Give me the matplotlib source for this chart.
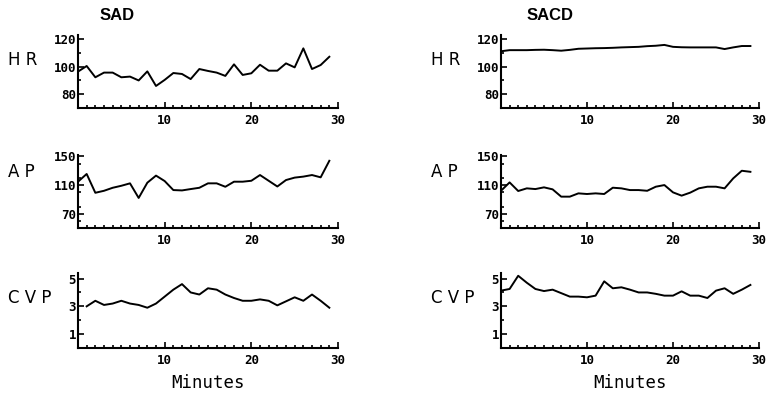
import numpy as np
import matplotlib
matplotlib.use("Agg")
import matplotlib.pyplot as plt
from matplotlib.ticker import MultipleLocator

minutes = list(range(30))
minutes_cvp_sad = list(range(1, 30))

hr_sad = [96.4, 100.5, 92.3, 95.7, 95.7, 92.3, 92.8, 90.0, 96.6, 86.0,
          90.4, 95.4, 94.7, 91.0, 98.3, 96.9, 95.7, 93.3, 101.7, 94.0,
          95.2, 101.4, 97.1, 97.1, 102.4, 99.5, 113.3, 98.3, 101.2, 107.2]
hr_sacd = [111.2, 112.0, 112.0, 112.0, 112.2, 112.3, 112.0, 111.6, 112.2, 113.0,
           113.2, 113.4, 113.5, 113.7, 114.0, 114.2, 114.4, 114.9, 115.2, 115.8,
           114.4, 114.1, 114.0, 114.0, 114.0, 114.0, 112.8, 114.0, 115.0, 115.0]

ap_sad = [114.7, 125.5, 99.2, 102.0, 106.2, 109.0, 112.4, 92.0, 113.3, 123.2,
          115.6, 103.0, 102.5, 104.4, 106.2, 112.4, 112.4, 107.6, 114.7, 114.7,
          116.0, 124.0, 116.0, 108.0, 117.0, 120.4, 121.8, 124.0, 120.8, 143.9]
ap_sacd = [102.0, 113.7, 101.7, 105.4, 104.4, 106.8, 104.0, 93.8, 93.8, 98.4,
           97.5, 98.4, 97.5, 106.3, 105.4, 103.0, 103.0, 102.0, 107.7, 110.0,
           99.8, 95.2, 99.4, 105.4, 107.7, 107.7, 105.4, 119.3, 130.0, 128.5]

cvp_sad = [3.0, 3.4, 3.1, 3.2, 3.4, 3.2, 3.1, 2.9, 3.2, 3.7,
           4.2, 4.6, 4.0, 3.85, 4.3, 4.2, 3.85, 3.6, 3.4, 3.4,
           3.5, 3.4, 3.07, 3.36, 3.65, 3.4, 3.85, 3.4, 2.9]
cvp_sacd = [4.13, 4.25, 5.2, 4.7, 4.25, 4.1, 4.2, 3.95, 3.7, 3.7,
            3.65, 3.77, 4.8, 4.3, 4.37, 4.2, 4.0, 4.0, 3.9, 3.77,
            3.77, 4.08, 3.77, 3.77, 3.6, 4.13, 4.3, 3.9, 4.2, 4.54]

W, H = 768, 393
fig = plt.figure(figsize=(W / 100, H / 100), dpi=100)

mono = "DejaVu Sans Mono"

# label, ylim, labelled ticks, minor step, axes top px, axes bottom px, label y px
rows = [
    ("H R", (70, 123), [80, 100, 120], 10, 35, 108, 60),
    ("A P", (50, 152), [70, 110, 150], 20, 155, 228, 172),
    ("C V P", (0, 5.4), [1, 3, 5], 1, 273, 348, 298),
]
cols = [(78, 338), (501, 759)]
data = [
    [(minutes, hr_sad), (minutes, hr_sacd)],
    [(minutes, ap_sad), (minutes, ap_sacd)],
    [(minutes_cvp_sad, cvp_sad), (minutes, cvp_sacd)],
]

for r, (lab, ylim, yt, yminor, top, bot, ly) in enumerate(rows):
    for c, (x0, x1) in enumerate(cols):
        ax = fig.add_axes([x0 / W, 1 - bot / H, (x1 - x0) / W, (bot - top) / H])
        xs, ys = data[r][c]
        ax.plot(xs, ys, color="black", lw=1.4)
        ax.set_xlim(0, 30)
        ax.set_ylim(*ylim)
        ax.spines["top"].set_visible(False)
        ax.spines["right"].set_visible(False)
        for s in ("left", "bottom"):
            ax.spines[s].set_linewidth(1.5)
        ax.set_xticks([10, 20, 30])
        ax.xaxis.set_minor_locator(MultipleLocator(1))
        ax.set_yticks(yt)
        ax.yaxis.set_minor_locator(MultipleLocator(yminor))
        ax.tick_params(direction="in", length=4, width=1.2, labelsize=9)
        ax.tick_params(axis="y", pad=1.5)
        ax.tick_params(axis="x", pad=4)
        ax.tick_params(which="minor", direction="in", length=2.5, width=1.2)
        for t in ax.get_xticklabels() + ax.get_yticklabels():
            t.set_fontfamily(mono)
            t.set_fontweight("bold")
        fig.text((x0 - 70) / W, 1 - ly / H, lab, fontfamily="DejaVu Sans",
                 fontsize=12, ha="left", va="center")
        if r == 2:
            ax.set_xlabel("Minutes", fontfamily=mono, fontsize=12.5, labelpad=5)

fig.text(117 / W, 1 - 15 / H, "SAD", fontfamily="Liberation Sans",
         fontweight="bold", fontsize=12, ha="center", va="center")
fig.text(550 / W, 1 - 15 / H, "SACD", fontfamily="Liberation Sans",
         fontweight="bold", fontsize=12, ha="center", va="center")

fig.savefig("out.png", dpi=100)
